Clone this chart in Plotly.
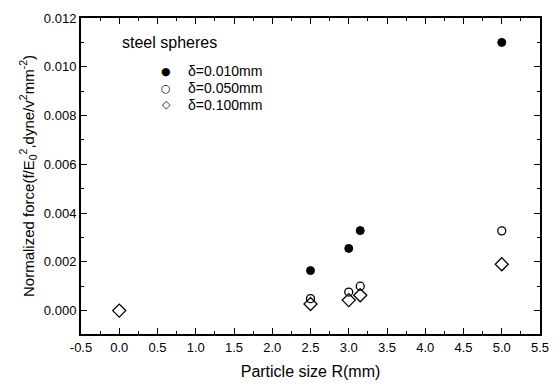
import plotly.graph_objects as go

x_010 = [2.5, 3.0, 3.15, 5.0]
y_010 = [0.00164, 0.00255, 0.00328, 0.0110]
x_050 = [2.5, 3.0, 3.15, 5.0]
y_050 = [0.00049, 0.00076, 0.00100, 0.00327]
x_100 = [0.0, 2.5, 3.0, 3.15, 5.0]
y_100 = [0.0, 0.00027, 0.00043, 0.00063, 0.00190]
names = ["δ=0.010mm", "δ=0.050mm", "δ=0.100mm"]
legend_glyphs = ["●", "○", "◇"]
x_ticks = [-0.5, 0.0, 0.5, 1.0, 1.5, 2.0, 2.5, 3.0, 3.5, 4.0, 4.5, 5.0, 5.5]
x_ticktext = ["-0.5", "0.0", "0.5", "1.0", "1.5", "2.0", "2.5", "3.0", "3.5", "4.0", "4.5", "5.0", "5.5"]

font = "Liberation Sans, Arial, sans-serif"
fig = go.Figure()
fig.add_trace(go.Scatter(x=x_010, y=y_010, mode="markers", name=names[0],
                         marker=dict(symbol="circle", size=8, color="black",
                                     line=dict(width=1, color="black"))))
fig.add_trace(go.Scatter(x=x_050, y=y_050, mode="markers", name=names[1],
                         marker=dict(symbol="circle-open", size=8, color="black",
                                     line=dict(width=1.3, color="black"))))
fig.add_trace(go.Scatter(x=x_100, y=y_100, mode="markers", name=names[2],
                         marker=dict(symbol="diamond-open", size=10, color="black",
                                     line=dict(width=1.3, color="black"))))

axis_common = dict(showline=True, linecolor="black", linewidth=2, mirror="allticks",
                   ticks="inside", ticklen=6, tickwidth=1.2, tickcolor="black",
                   showgrid=False, zeroline=False,
                   tickfont=dict(family=font, size=13, color="black"))
fig.update_xaxes(range=[-0.5, 5.5], tickvals=x_ticks, ticktext=x_ticktext,
                 minor=dict(ticks="inside", ticklen=3, dtick=0.25, tickcolor="black", tickwidth=1),
                 title=dict(text="Particle size R(mm)", font=dict(family=font, size=16, color="black"),
                            standoff=12),
                 **axis_common)
fig.update_yaxes(range=[-0.00096, 0.012], dtick=0.002, tick0=0, tickformat=".3f",
                 minor=dict(ticks="inside", ticklen=3, dtick=0.001, tickcolor="black", tickwidth=1),
                 title=dict(text="Normalized force(f/E<sub>0</sub><sup>2</sup>,dyne/v<sup>2</sup>mm<sup>-2</sup>)",
                            font=dict(family=font, size=15, color="black"), standoff=6),
                 **axis_common)
fig.add_annotation(text="steel spheres", xref="paper", yref="paper", x=0.086, y=0.923,
                   xanchor="left", yanchor="middle", showarrow=False,
                   font=dict(family=font, size=16, color="black"))
legend_y = [0.831, 0.778, 0.726]
for g, n, yy in zip(legend_glyphs, names, legend_y):
    fig.add_annotation(text=g, xref="paper", yref="paper", x=0.186, y=yy,
                       xanchor="center", yanchor="middle", showarrow=False, borderpad=0,
                       font=dict(family="DejaVu Sans", size=11, color="black"))
    fig.add_annotation(text=n, xref="paper", yref="paper", x=0.232, y=yy,
                       xanchor="left", yanchor="middle", showarrow=False, borderpad=0,
                       font=dict(family=font, size=14, color="black"))
fig.update_layout(width=560, height=389, margin=dict(l=81, r=11, t=13, b=51),
                  plot_bgcolor="white", paper_bgcolor="white", showlegend=False)
fig.write_html("out.html")
